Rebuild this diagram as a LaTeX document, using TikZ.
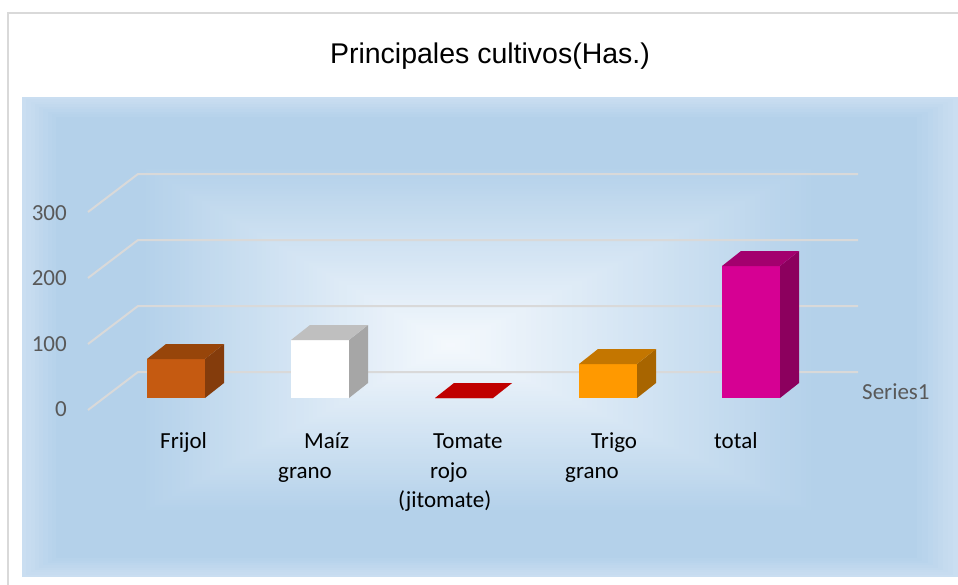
\documentclass[tikz,border=0pt]{standalone}
\usepackage{fontspec}
\setmainfont{Carlito}
\newfontfamily\titlefont{Liberation Sans}
\definecolor{edgeblue}{HTML}{CADEF1}
\definecolor{midblue}{HTML}{B4D1EA}
\definecolor{centerwhite}{HTML}{F5F9FD}
\definecolor{gridgrey}{HTML}{D9D9D9}
\definecolor{framegrey}{HTML}{D9D9D9}
\definecolor{axisgrey}{HTML}{595959}
\definecolor{frijolF}{HTML}{C55A11}
\definecolor{frijolT}{HTML}{97450A}
\definecolor{frijolS}{HTML}{843C0C}
\definecolor{maizF}{HTML}{FFFFFF}
\definecolor{maizT}{HTML}{BFBFBF}
\definecolor{maizS}{HTML}{A6A6A6}
\definecolor{tomateT}{HTML}{C00000}
\definecolor{trigoF}{HTML}{FF9900}
\definecolor{trigoT}{HTML}{C47600}
\definecolor{trigoS}{HTML}{A86500}
\definecolor{totalF}{HTML}{D60093}
\definecolor{totalT}{HTML}{A3006E}
\definecolor{totalS}{HTML}{8C005E}
\newcommand\mybarthreed[5]{%
  % #1 x0, #2 height, #3 front, #4 top, #5 side
  \fill[#3] (#1,398) rectangle ({#1+58},{398-#2});
  \fill[#5] ({#1+58},398) -- ({#1+77},383) -- ({#1+77},{383-#2}) -- ({#1+58},{398-#2}) -- cycle;
  \fill[#4] (#1,{398-#2}) -- ({#1+19},{383-#2}) -- ({#1+77},{383-#2}) -- ({#1+58},{398-#2}) -- cycle;
}
\begin{document}
\begin{tikzpicture}[x=1pt,y=-1pt,
  catlabel/.style={font=\fontsize{23}{28}\selectfont, anchor=base west, inner sep=0pt, text=black},
  ticklabel/.style={font=\fontsize{23}{28}\selectfont, anchor=east, inner sep=0pt, text=axisgrey},
  gridline/.style={draw=gridgrey, line width=2pt}]
\useasboundingbox (0,0) rectangle (958,584);
\clip (0,0) rectangle (958,584);
\fill[white] (0,0) rectangle (958,584);
\draw[framegrey, line width=2pt] (8,600) -- (8,13) -- (980,13);
% plot area background (rectangular path gradient)
\foreach \k in {0,...,100}{
  \pgfmathsetmacro\t{\k/100}
  \pgfmathsetmacro\s{1-\t}
  \ifdim\t pt<0.08pt
    \pgfmathsetmacro\p{\t/0.08*100}
    \colorlet{bgc}{midblue!\p!edgeblue}
  \else
    \ifdim\t pt<0.28pt
      \colorlet{bgc}{midblue}
    \else
      \pgfmathsetmacro\p{(\t-0.28)/0.72*100}
      \colorlet{bgc}{centerwhite!\p!midblue}
    \fi
  \fi
  \fill[bgc] ({450-428*\s},{345-248*\s}) rectangle ({450+508*\s},{345+232*\s});
}
% title
\node[font=\titlefont\fontsize{28.5}{32}\selectfont, anchor=base, inner sep=0pt] (title) at (490,63) {Principales cultivos(Has.)};
% gridlines
\foreach \v/\y in {0/372,100/306,200/240,300/174}{
  \coordinate (gf\v) at (88,{\y+38});
  \coordinate (gb\v) at (138,\y);
  \coordinate (ge\v) at (858,\y);
  \draw[gridline] (gf\v) -- (gb\v) -- (ge\v);
}
% tick labels
\node[ticklabel] (t300) at (67,213) {300};
\node[ticklabel] (t200) at (67,278) {200};
\node[ticklabel] (t100) at (67,344) {100};
\node[ticklabel] (t0) at (67,409) {0};
% bars
\mybarthreed{147}{39}{frijolF}{frijolT}{frijolS}
\mybarthreed{291}{58}{maizF}{maizT}{maizS}
\mybarthreed{435}{0}{tomateT}{tomateT}{tomateT}
\mybarthreed{579}{34}{trigoF}{trigoT}{trigoS}
\mybarthreed{722}{132}{totalF}{totalT}{totalS}
% series label
\node[ticklabel, anchor=west] (series) at (862,392) {Series1};
% category labels
\node[catlabel] (c1a) at (160,448) {Frijol};
\node[catlabel] (c2a) at (304,448) {Maíz};
\node[catlabel] (c2b) at (278,478) {grano};
\node[catlabel] (c3a) at (433,448) {Tomate};
\node[catlabel] (c3b) at (430,478) {rojo};
\node[catlabel] (c3c) at (398,507) {(jitomate)};
\node[catlabel] (c4a) at (591,448) {Trigo};
\node[catlabel] (c4b) at (565,478) {grano};
\node[catlabel] (c5a) at (714,448) {total};
\end{tikzpicture}
\end{document}
